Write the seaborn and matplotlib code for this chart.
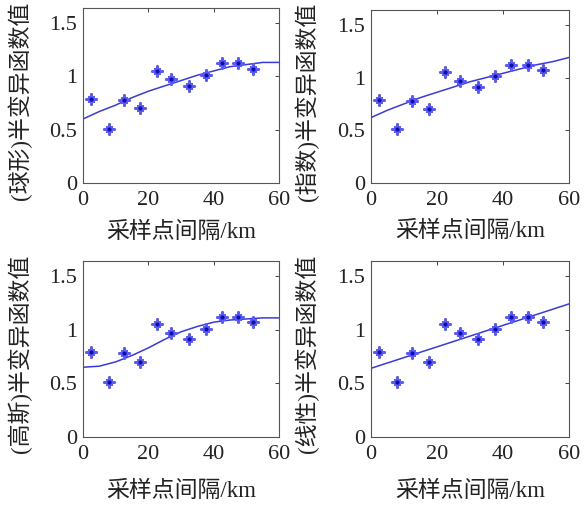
import numpy as np
import pandas as pd
import matplotlib
matplotlib.use("Agg")
import matplotlib.pyplot as plt
import seaborn as sns

# Experimental semivariogram points
lag_km = [2.5, 8, 12.5, 17.5, 22.5, 27, 32.5, 37.5, 42.5, 47.5, 52]
gamma_obs = [0.79, 0.51, 0.78, 0.70, 1.05, 0.97, 0.91, 1.01, 1.12, 1.12, 1.07]

# Fitted model curves
curve_x = [0, 5, 10, 15, 20, 25, 30, 35, 40, 45, 50, 55, 60]
fit_spherical = [0.60, 0.67, 0.73, 0.80, 0.86, 0.91, 0.96, 1.01, 1.05, 1.09, 1.11, 1.13, 1.13]
fit_exponential = [0.62, 0.69, 0.75, 0.81, 0.86, 0.91, 0.96, 1.00, 1.04, 1.08, 1.12, 1.15, 1.19]
fit_gaussian = [0.65, 0.66, 0.70, 0.76, 0.83, 0.91, 0.98, 1.03, 1.07, 1.09, 1.10, 1.11, 1.11]
linear_x = [0, 60]
fit_linear = [0.64, 1.24]

model_names = ["球形", "指数", "高斯", "线性"]
x_ticks = [0, 20, 40, 60]
y_ticks = [0, 0.5, 1, 1.5]
y_tick_labels = ["0", "0.5", "1", "1.5"]
x_label = "采样点间隔/km"

sns.set_style("white")
plt.rcParams["font.family"] = ["Liberation Serif", "Noto Sans CJK SC", "DejaVu Sans"]
plt.rcParams["axes.unicode_minus"] = False

W, H = 584, 508
fig = plt.figure(figsize=(W / 100, H / 100), dpi=100)

# pixel boxes: left, right, top, bottom
boxes = [(83, 279, 8, 183), (371, 569, 10, 183), (83, 279, 261, 437), (371, 569, 261, 437)]
curves = [(curve_x, fit_spherical), (curve_x, fit_exponential),
          (curve_x, fit_gaussian), (linear_x, fit_linear)]

blue_line = "#3a3ad8"
blue_mark = "#5a5aff"

obs_df = pd.DataFrame({"lag": lag_km, "gamma": gamma_obs})

for i, (box, (cx, cy), name) in enumerate(zip(boxes, curves, model_names)):
    l, r, t, b = box
    ax = fig.add_axes([l / W, (H - b) / H, (r - l) / W, (b - t) / H])
    curve_df = pd.DataFrame({"x": cx, "y": cy})
    sns.lineplot(data=curve_df, x="x", y="y", ax=ax, color=blue_line, lw=1.1)
    sns.scatterplot(data=obs_df, x="lag", y="gamma", ax=ax, marker=(4, 2, 0),
                    s=55, color=blue_mark, linewidth=2.0, edgecolor=blue_mark, zorder=3)
    sns.scatterplot(data=obs_df, x="lag", y="gamma", ax=ax, marker=(4, 2, 45),
                    s=22, color=blue_mark, linewidth=1.6, edgecolor=blue_mark, zorder=3)
    sns.scatterplot(data=obs_df, x="lag", y="gamma", ax=ax, marker="o",
                    s=9, color="#1010a8", linewidth=0, zorder=4)
    ax.set_xlim(0, 60)
    ax.set_ylim(0, 1.64)
    ax.set_xticks(x_ticks)
    ax.set_yticks(y_ticks)
    ax.set_yticklabels(y_tick_labels)
    ax.tick_params(direction="in", length=3, width=0.7, colors="#444444",
                   labelcolor="#222222", labelsize=16, top=True, right=True)
    ax.tick_params(axis="x", pad=6)
    ax.tick_params(axis="y", pad=4)
    for s in ax.spines.values():
        s.set_visible(True)
        s.set_color("#555555")
        s.set_linewidth(0.8)
    ax.set_xlabel(x_label, fontsize=16.5, color="#222222")
    ax.set_ylabel(f"({name})半变异函数值", fontsize=16.5, color="#222222")
    ax.yaxis.set_label_coords(-0.26, 0.47)
    if i < 2:
        ax.xaxis.set_label_coords(0.5, -0.22)
    else:
        ax.xaxis.set_label_coords(0.5, -0.25)

fig.savefig("out.png", dpi=100)
